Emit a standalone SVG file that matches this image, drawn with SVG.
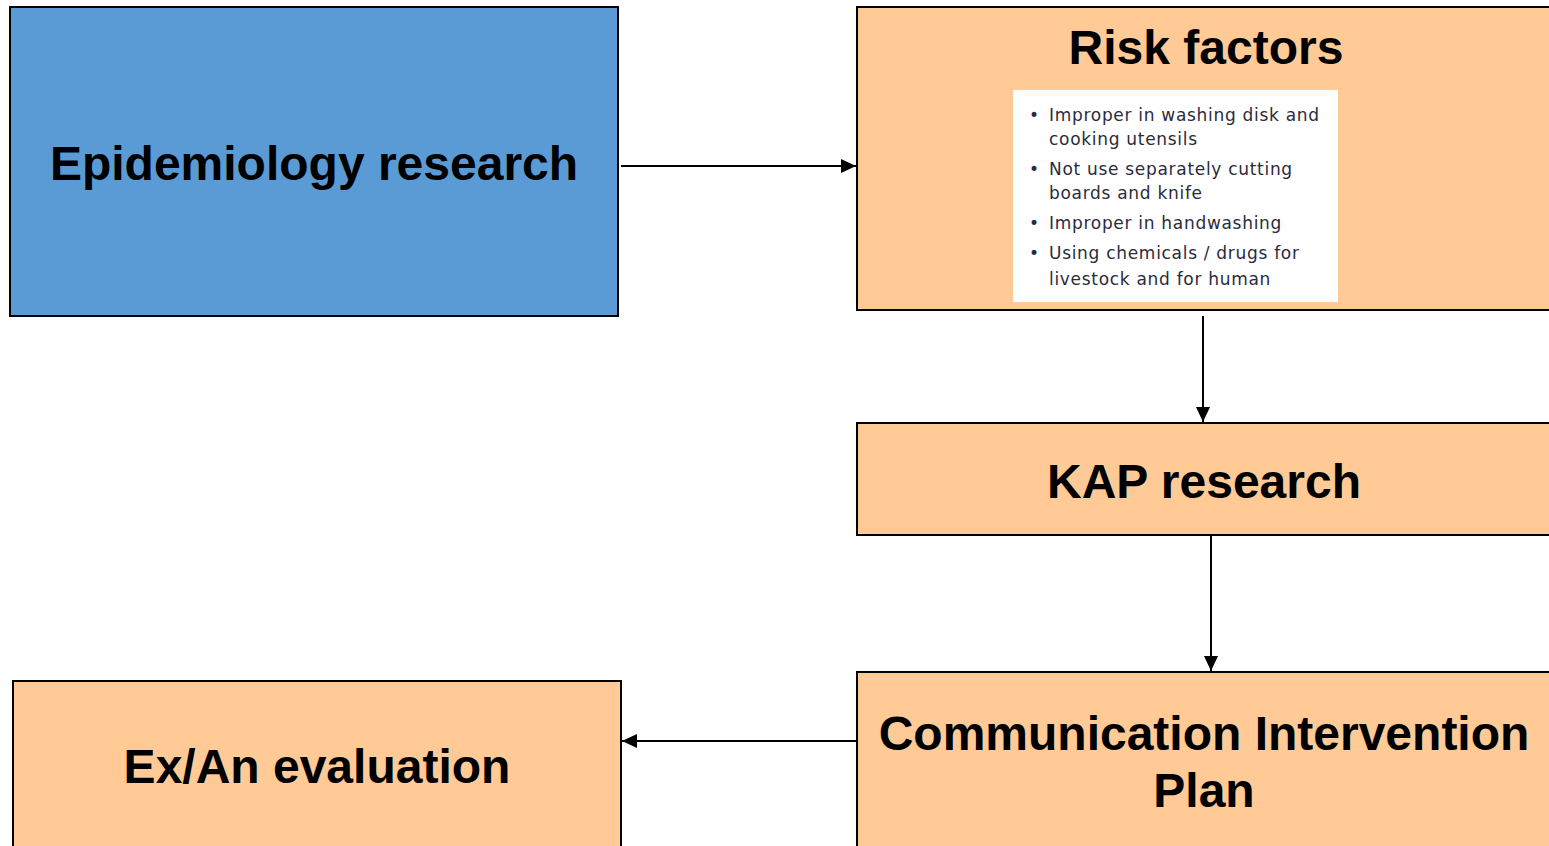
<svg xmlns="http://www.w3.org/2000/svg" width="1549" height="846" viewBox="0 0 1549 846">
<defs>
<style>
.box{stroke:#000;stroke-width:2}
.peach{fill:#FFCA96}
.t{font-family:"Liberation Sans",Arial,sans-serif;font-weight:bold;font-size:48px;fill:#000;text-anchor:middle}
.b{font-family:"DejaVu Sans",Verdana,sans-serif;font-size:17px;letter-spacing:0.7px;fill:#2b2b3b}
.c{stroke:#000;stroke-width:2;fill:none}
</style>
<marker id="ahv" markerWidth="16" markerHeight="16" refX="15" refY="8" orient="auto" markerUnits="userSpaceOnUse" viewBox="0 0 16 16">
<path d="M0,1 L15,8 L0,15 z" fill="#000"/>
</marker>
</defs>
<rect width="1549" height="846" fill="#fff"/>
<g id="epi">
<rect class="box" x="10" y="7" width="608" height="309" fill="#5B9BD5"/>
<text class="t" x="314" y="180">Epidemiology research</text>
</g>
<g id="risk">
<rect class="box peach" x="857" y="7" width="700" height="303"/>
<text class="t" x="1206" y="64">Risk factors</text>
<rect x="1013" y="90" width="325" height="212" fill="#fff"/>
<g class="b">
<text x="1029" y="121">•</text><text x="1049" y="121">Improper in washing disk and</text>
<text x="1049" y="145">cooking utensils</text>
<text x="1029" y="175">•</text><text x="1049" y="175">Not use separately cutting</text>
<text x="1049" y="199">boards and knife</text>
<text x="1029" y="229">•</text><text x="1049" y="229">Improper in handwashing</text>
<text x="1029" y="259">•</text><text x="1049" y="259">Using chemicals / drugs for</text>
<text x="1049" y="285">livestock and for human</text>
</g>
</g>
<g id="kap">
<rect class="box peach" x="857" y="423" width="700" height="112"/>
<text class="t" x="1204" y="498">KAP research</text>
</g>
<g id="comm">
<rect class="box peach" x="857" y="672" width="700" height="190"/>
<text class="t" x="1204" y="750">Communication Intervention</text>
<text class="t" x="1204" y="807">Plan</text>
</g>
<g id="exan">
<rect class="box peach" x="13" y="681" width="608" height="180"/>
<text class="t" x="317" y="783">Ex/An evaluation</text>
</g>
<g id="connectors">
<line class="c" x1="621" y1="166" x2="856" y2="166" marker-end="url(#ahv)"/>
<line class="c" x1="1203" y1="316" x2="1203" y2="422" marker-end="url(#ahv)"/>
<line class="c" x1="1211" y1="536" x2="1211" y2="671" marker-end="url(#ahv)"/>
<line class="c" x1="857" y1="741" x2="622" y2="741" marker-end="url(#ahv)"/>
</g>
</svg>
